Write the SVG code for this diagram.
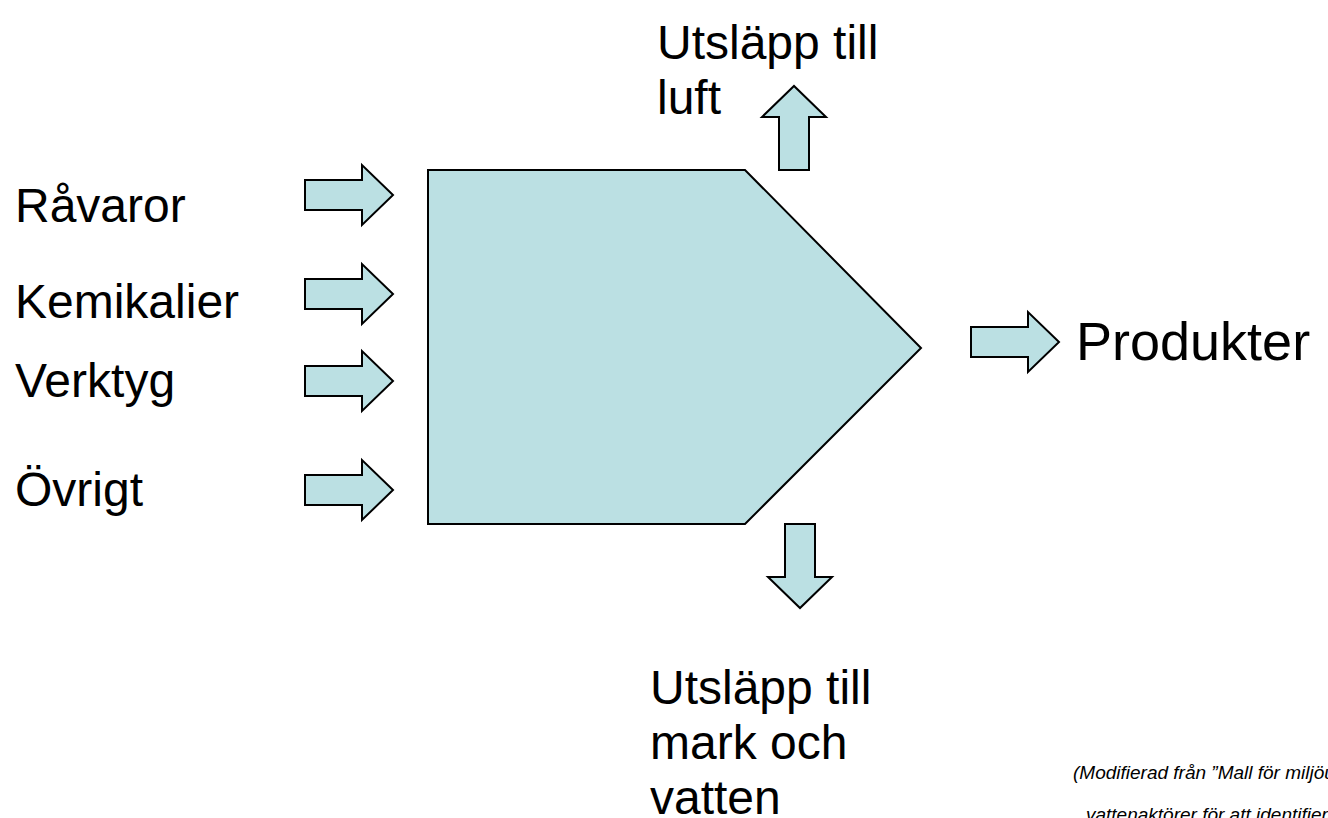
<svg xmlns="http://www.w3.org/2000/svg" width="1328" height="818" viewBox="0 0 1328 818">
  <defs>
    <style>
      .shape { fill: #BBE0E3; stroke: #000000; stroke-width: 2; stroke-linejoin: miter; }
      .label { font-family: "Liberation Sans", Arial, sans-serif; font-size: 48px; fill: #000000; }
      .note { font-family: "Liberation Sans", Arial, sans-serif; font-size: 19px; font-style: italic; fill: #000000; }
    </style>
    <!-- block arrow pointing right, tip at origin -->
    <path id="arrowRight" d="M -88 -15 L -31 -15 L -31 -30 L 0 0 L -31 30 L -31 15 L -88 15 Z"/>
    <!-- shorter block arrow used for the vertical outputs -->
    <path id="arrowShort" d="M -84 -15 L -31 -15 L -31 -32 L 0 0 L -31 32 L -31 15 L -84 15 Z"/>
  </defs>

  <rect width="1328" height="818" fill="#ffffff"/>

  <!-- process block -->
  <g id="process">
    <polygon class="shape" points="428,170 745,170 921,348 745,524 428,524"/>
  </g>

  <!-- input labels -->
  <g id="input-ravaror"><text class="label" x="15" y="222">Råvaror</text></g>
  <g id="input-kemikalier"><text class="label" x="15" y="318">Kemikalier</text></g>
  <g id="input-verktyg"><text class="label" x="15" y="397">Verktyg</text></g>
  <g id="input-ovrigt"><text class="label" x="15" y="506">Övrigt</text></g>

  <!-- output labels -->
  <g id="output-luft">
    <text class="label" x="657" y="59">Utsläpp till</text>
    <text class="label" x="657" y="114">luft</text>
  </g>
  <g id="output-produkter"><text class="label" x="1076" y="360" style="font-size:54px">Produkter</text></g>
  <g id="output-mark">
    <text class="label" x="650" y="704">Utsläpp till</text>
    <text class="label" x="650" y="759">mark och</text>
    <text class="label" x="650" y="814">vatten</text>
  </g>

  <!-- flow arrows -->
  <g id="connectors">
    <use href="#arrowRight" class="shape" transform="translate(393,195)"/>
    <use href="#arrowRight" class="shape" transform="translate(393,294)"/>
    <use href="#arrowRight" class="shape" transform="translate(393,381)"/>
    <use href="#arrowRight" class="shape" transform="translate(393,490)"/>
    <use href="#arrowRight" class="shape" transform="translate(1059,342)"/>
    <use href="#arrowShort" class="shape" transform="translate(794,86) rotate(-90)"/>
    <use href="#arrowShort" class="shape" transform="translate(800,608) rotate(90)"/>
  </g>

  <!-- source note -->
  <g id="note">
    <text class="note" x="1073" y="779">(Modifierad från ”Mall för miljöutredning</text>
    <text class="note" x="1086" y="821">vattenaktörer för att identifiera f</text>
  </g>
</svg>
